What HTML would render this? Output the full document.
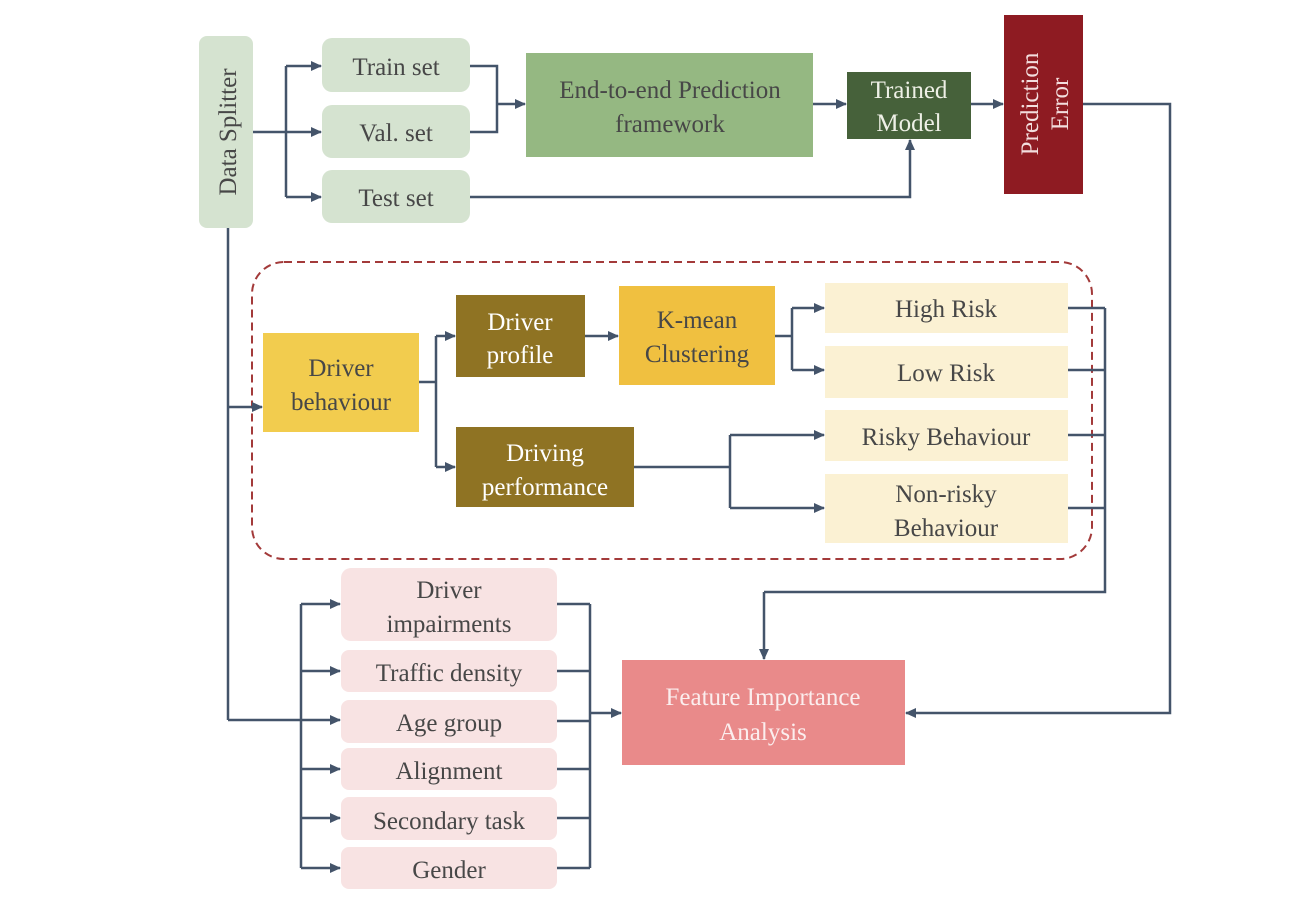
<!DOCTYPE html>
<html><head><style>body{margin:0;background:#fff}svg{display:block}text{font-family:"Liberation Serif",serif;font-size:25px;fill:#474747;text-anchor:middle}</style></head><body>
<svg width="1293" height="900" viewBox="0 0 1293 900">
<defs><marker id="a" markerWidth="11" markerHeight="10" refX="10" refY="5" orient="auto" markerUnits="userSpaceOnUse"><path d="M0,0 L11,5 L0,10 z" fill="#44546a"/></marker></defs>
<g stroke="none">
<rect x="199" y="36" width="54" height="192" rx="8" fill="#d5e3d0"/>
<rect x="322" y="38" width="148" height="54" rx="10" fill="#d5e3d0"/>
<rect x="322" y="105" width="148" height="53" rx="10" fill="#d5e3d0"/>
<rect x="322" y="170" width="148" height="53" rx="10" fill="#d5e3d0"/>
<rect x="526" y="53" width="287" height="104" fill="#95b882"/>
<rect x="847" y="72" width="124" height="67" fill="#46613a"/>
<rect x="1004" y="15" width="79" height="179" fill="#8e1b22"/>
<rect x="263" y="333" width="156" height="99" fill="#f2cc4e"/>
<rect x="456" y="295" width="129" height="82" fill="#8f7323"/>
<rect x="456" y="427" width="178" height="80" fill="#8f7323"/>
<rect x="619" y="286" width="156" height="99" fill="#f0c040"/>
<rect x="825" y="283" width="243" height="50" fill="#fbf1d3"/>
<rect x="825" y="346" width="243" height="52" fill="#fbf1d3"/>
<rect x="825" y="410" width="243" height="51" fill="#fbf1d3"/>
<rect x="825" y="474" width="243" height="69" fill="#fbf1d3"/>
<rect x="622" y="660" width="283" height="105" fill="#e98a8a"/>
<rect x="341" y="568" width="216" height="73" rx="10" fill="#f8e3e3"/>
<rect x="341" y="650" width="216" height="42" rx="8" fill="#f8e3e3"/>
<rect x="341" y="700" width="216" height="43" rx="8" fill="#f8e3e3"/>
<rect x="341" y="748" width="216" height="42" rx="8" fill="#f8e3e3"/>
<rect x="341" y="797" width="216" height="43" rx="8" fill="#f8e3e3"/>
<rect x="341" y="847" width="216" height="42" rx="8" fill="#f8e3e3"/>
</g>
<rect x="252" y="262" width="840" height="297" rx="32" fill="none" stroke="#a33a3a" stroke-width="2" stroke-dasharray="8,5"/>
<g fill="none" stroke="#44546a" stroke-width="2.5">
<path d="M253,132 H286 M286,66 V197"/>
<path d="M286,66 H321" marker-end="url(#a)"/><path d="M286,132 H321" marker-end="url(#a)"/><path d="M286,197 H321" marker-end="url(#a)"/>
<path d="M470,66 H497 V132 H470"/><path d="M497,104 H525" marker-end="url(#a)"/>
<path d="M813,104 H846" marker-end="url(#a)"/><path d="M971,104 H1003" marker-end="url(#a)"/>
<path d="M470,197 H910 V140" marker-end="url(#a)"/>
<path d="M1083,104 H1170 V713 H906" marker-end="url(#a)"/>
<path d="M228,228 V720"/><path d="M228,407 H262" marker-end="url(#a)"/>
<path d="M228,720 H340" marker-end="url(#a)"/>
<path d="M419,382 H436 M436,336 V467"/><path d="M436,336 H455" marker-end="url(#a)"/><path d="M436,467 H455" marker-end="url(#a)"/>
<path d="M585,336 H618" marker-end="url(#a)"/>
<path d="M775,336 H792 M792,308 V370"/><path d="M792,308 H824" marker-end="url(#a)"/><path d="M792,370 H824" marker-end="url(#a)"/>
<path d="M634,467 H730 M730,435 V508"/><path d="M730,435 H824" marker-end="url(#a)"/><path d="M730,508 H824" marker-end="url(#a)"/>
<path d="M1068,308 H1105 M1068,370 H1105 M1068,435 H1105 M1068,508 H1105 M1105,308 V592 H764"/><path d="M764,592 V659" marker-end="url(#a)"/>
<path d="M301,604 V868"/>
<path d="M301,604 H340" marker-end="url(#a)"/><path d="M301,671 H340" marker-end="url(#a)"/><path d="M301,769 H340" marker-end="url(#a)"/><path d="M301,818 H340" marker-end="url(#a)"/><path d="M301,868 H340" marker-end="url(#a)"/>
<path d="M557,604 H590 M557,671 H590 M557,721 H590 M557,769 H590 M557,818 H590 M557,868 H590 M590,604 V868"/>
<path d="M590,713 H621" marker-end="url(#a)"/>
</g>
<text transform="translate(236,132) rotate(-90)">Data Splitter</text>
<text x="396" y="75">Train set</text><text x="396" y="141">Val. set</text><text x="396" y="206">Test set</text>
<text x="670" y="98">End-to-end Prediction</text><text x="670" y="132">framework</text>
<text x="909" y="98" style="fill:#eef0e6">Trained</text><text x="909" y="131" style="fill:#eef0e6">Model</text>
<text transform="translate(1038,104) rotate(-90)" style="fill:#f3dede">Prediction</text>
<text transform="translate(1068,104) rotate(-90)" style="fill:#f3dede">Error</text>
<text x="341" y="376">Driver</text><text x="341" y="410">behaviour</text>
<text x="520" y="330" style="fill:#fff">Driver</text><text x="520" y="363" style="fill:#fff">profile</text>
<text x="697" y="328">K-mean</text><text x="697" y="362">Clustering</text>
<text x="545" y="461" style="fill:#fff">Driving</text><text x="545" y="495" style="fill:#fff">performance</text>
<text x="946" y="317">High Risk</text><text x="946" y="381">Low Risk</text><text x="946" y="445">Risky Behaviour</text>
<text x="946" y="502">Non-risky</text><text x="946" y="536">Behaviour</text>
<text x="763" y="705" style="fill:#fbeeee">Feature Importance</text><text x="763" y="740" style="fill:#fbeeee">Analysis</text>
<text x="449" y="598">Driver</text><text x="449" y="632">impairments</text>
<text x="449" y="681">Traffic density</text><text x="449" y="731">Age group</text><text x="449" y="779">Alignment</text>
<text x="449" y="829">Secondary task</text><text x="449" y="878">Gender</text>
</svg></body></html>
